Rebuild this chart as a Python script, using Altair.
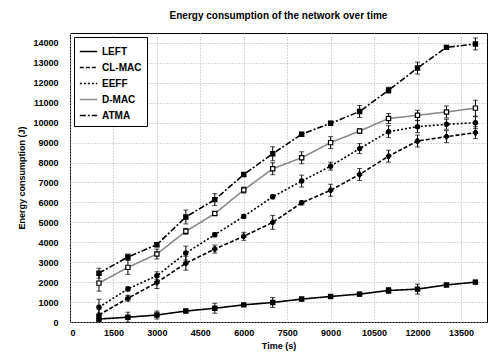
import altair as alt
import pandas as pd

times = [1000, 2000, 3000, 4000, 5000, 6000, 7000, 8000, 9000, 10000, 11000, 12000, 13000, 14000]
series = ["LEFT", "CL-MAC", "EEFF", "D-MAC", "ATMA"]

left = [150, 240, 350, 550, 690, 860, 980, 1150, 1280, 1400, 1580, 1650, 1860, 2000]
clmac = [350, 1190, 1980, 2950, 3660, 4300, 5000, 5980, 6610, 7400, 8320, 9080, 9300, 9500]
eeff = [740, 1660, 2320, 3460, 4380, 5300, 6280, 7070, 7820, 8700, 9550, 9800, 9920, 10000]
dmac = [1950, 2740, 3410, 4550, 5440, 6620, 7690, 8240, 9000, 9580, 10210, 10370, 10540, 10730]
atma = [2450, 3260, 3880, 5270, 6140, 7400, 8440, 9420, 9970, 10560, 11630, 12740, 13780, 13950]

left_err = [100, 250, 200, 80, 250, 60, 250, 80, 60, 100, 150, 250, 60, 100]
clmac_err = [300, 150, 300, 350, 200, 200, 350, 100, 300, 300, 300, 300, 300, 300]
eeff_err = [400, 100, 200, 350, 100, 100, 100, 300, 200, 250, 300, 300, 250, 300]
dmac_err = [400, 350, 250, 150, 100, 150, 300, 300, 300, 100, 250, 250, 300, 400]
atma_err = [250, 150, 100, 350, 300, 100, 350, 100, 100, 300, 150, 300, 100, 300]

x_ticks = [0, 1500, 3000, 4500, 6000, 7500, 9000, 10500, 12000, 13500]
y_ticks = list(range(0, 14001, 1000))

marker_shapes = ["square", "cross", "circle", "square", "square"]
marker_fills = ["black", "black", "black", "white", "black"]

vals = [left, clmac, eeff, dmac, atma]
errs = [left_err, clmac_err, eeff_err, dmac_err, atma_err]
rows = []
for s, v, e in zip(series, vals, errs):
    for t, y, d in zip(times, v, e):
        rows.append({"series": s, "time": t, "energy": y, "lo": y - d, "hi": y + d})
df = pd.DataFrame(rows)

font = "Liberation Sans"
xscale = alt.Scale(domain=[0, 14400], nice=False)
yscale = alt.Scale(domain=[0, 14500], nice=False)
xaxis = alt.Axis(values=x_ticks, title="Time (s)", format="d", labelOverlap=False)
yaxis = alt.Axis(values=y_ticks, title="Energy consumption (J)", format="d", labelOverlap=False)

base = alt.Chart(df)

lines = base.mark_line(strokeWidth=1.6).encode(
    x=alt.X("time:Q", scale=xscale, axis=xaxis),
    y=alt.Y("energy:Q", scale=yscale, axis=yaxis),
    color=alt.Color("series:N", sort=series,
                    scale=alt.Scale(domain=series, range=["black", "black", "black", "#8a8a8a", "black"]),
                    legend=alt.Legend(title=None)),
    strokeDash=alt.StrokeDash("series:N", sort=series,
                              scale=alt.Scale(domain=series, range=[[1, 0], [4, 2], [2, 2], [1, 0], [6, 2, 2, 2]]),
                              legend=alt.Legend(title=None)),
)

bars = base.mark_errorbar(ticks=True, thickness=1, color="black").encode(
    x=alt.X("time:Q", scale=xscale, axis=xaxis),
    y=alt.Y("lo:Q", scale=yscale, axis=yaxis),
    y2="hi:Q",
)

point_layers = []
for s, shp, fl in zip(series, marker_shapes, marker_fills):
    point_layers.append(
        base.transform_filter(alt.datum.series == s).mark_point(
            size=18, strokeWidth=1.2, stroke="black", fill=fl, shape=shp, opacity=1, fillOpacity=1
        ).encode(
            x=alt.X("time:Q", scale=xscale, axis=xaxis),
            y=alt.Y("energy:Q", scale=yscale, axis=yaxis),
        )
    )

chart = alt.layer(lines, bars, *point_layers).properties(
    width=417, height=289,
    title=alt.TitleParams("Energy consumption of the network over time", font=font,
                          fontSize=10, fontWeight="bold", anchor="middle", offset=12),
    autosize=alt.AutoSizeParams(type="none"),
    padding={"left": 70, "top": 33, "right": 1, "bottom": 34},
).configure_view(
    stroke="black", strokeWidth=1
).configure_axis(
    labelFont=font, labelFontSize=9, labelFontWeight="bold", labelColor="black",
    titleFont=font, titleFontSize=9, titleFontWeight="bold", titleColor="black",
    grid=True, gridColor="#b0b0b0", gridDash=[1, 2], gridWidth=1,
    ticks=False, domain=False,
).configure_axisX(
    labelPadding=6, titlePadding=4
).configure_axisY(
    labelPadding=12, titlePadding=6
).configure_legend(
    orient="top-left", fillColor="white", strokeColor="black", padding=5,
    labelFont=font, labelFontSize=10, labelFontWeight="bold", labelColor="black",
    symbolType="stroke", symbolStrokeWidth=1.6, symbolSize=300, rowPadding=1,
    offset=4,
)

chart.save("out.html", embed_options={"renderer": "svg", "actions": False})
